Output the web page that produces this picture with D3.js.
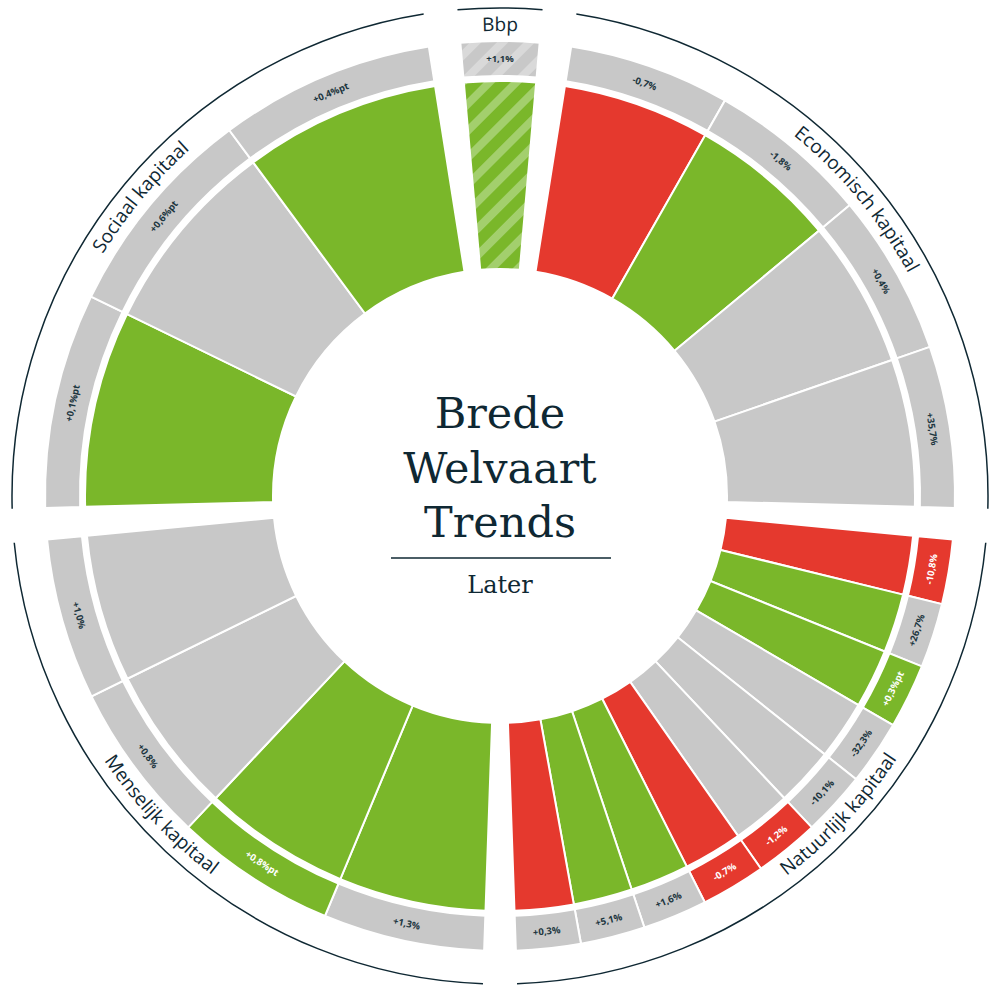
<!DOCTYPE html>
<html>
<head>
<meta charset="utf-8">
<script src="https://cdn.jsdelivr.net/npm/d3@7"></script>
<style>
  body { margin: 0; background: #fff; }
</style>
</head>
<body>
<script>
// sections, clockwise from the top
const sectionNames = ["Bbp", "Economisch kapitaal", "Natuurlijk kapitaal", "Menselijk kapitaal", "Sociaal kapitaal"];

// inner ring: status of the level per indicator (clockwise)
const levelStatus = [
  ["up"],
  ["down", "up", "neutral", "neutral"],
  ["down", "up", "up", "neutral", "neutral", "neutral", "down", "up", "up", "down"],
  ["up", "up", "neutral", "neutral"],
  ["up", "neutral", "up"]
];

// outer ring: trend status per indicator
const trendStatus = [
  ["neutral"],
  ["neutral", "neutral", "neutral", "neutral"],
  ["down", "neutral", "up", "neutral", "neutral", "down", "down", "neutral", "neutral", "neutral"],
  ["neutral", "up", "neutral", "neutral"],
  ["neutral", "neutral", "neutral"]
];

// outer ring: trend labels
const trendLabels = [
  ["+1,1%"],
  ["-0,7%", "-1,8%", "+0,4%", "+35,7%"],
  ["-10,8%", "+26,7%", "+0,3%pt", "-32,3%", "-10,1%", "-1,2%", "-0,7%", "+1,6%", "+5,1%", "+0,3%"],
  ["+1,3%", "+0,8%pt", "+0,8%", "+1,0%"],
  ["+0,1%pt", "+0,6%pt", "+0,4%pt"]
];

const hatchedSections = ["Bbp"];
const titleLines = ["Brede", "Welvaart", "Trends"];
const subtitle = "Later";

// layout
const width = 991, height = 985;
const cx = 500, cy = 496;
const gapDeg = 4, bbpDeg = 10;
const otherDeg = (360 - sectionNames.length * gapDeg - bbpDeg) / (sectionNames.length - 1);
const r0 = 227, r1 = 415, r2 = 420, r3 = 455, rLine = 488;
const dark = "#0f2833";

const colors = { up: "#7ab72a", down: "#e5392e", neutral: "#c8c8c8" };
const rad = d => d * Math.PI / 180;

// section angles (degrees, clockwise from top)
let sections = [];
let start = -bbpDeg / 2;
sectionNames.forEach((name, i) => {
  const span = i === 0 ? bbpDeg : otherDeg;
  sections.push({ name: name, i: i, start: start, end: start + span });
  start += span + gapDeg;
});

const svg = d3.select("body").append("svg")
  .attr("width", width)
  .attr("height", height);

// hatch patterns for Bbp
const defs = svg.append("defs");
function hatch(id, base, stripe) {
  const p = defs.append("pattern")
    .attr("id", id)
    .attr("patternUnits", "userSpaceOnUse")
    .attr("width", 19).attr("height", 19)
    .attr("patternTransform", "rotate(45)");
  p.append("rect").attr("width", 19).attr("height", 19).attr("fill", base);
  p.append("rect").attr("width", 8).attr("height", 19).attr("fill", stripe);
}
hatch("hatch-up", colors.up, "#a3cf6d");
hatch("hatch-neutral", colors.neutral, "#d9d9d9");

const g = svg.append("g").attr("transform", `translate(${cx},${cy})`);

const arc = d3.arc();

let cells = [];
sections.forEach(s => {
  const n = levelStatus[s.i].length;
  const a = d3.scaleLinear().domain([0, n]).range([s.start, s.end]);
  for (let k = 0; k < n; k++) {
    cells.push({
      section: s.name,
      a0: a(k), a1: a(k + 1),
      level: levelStatus[s.i][k],
      trend: trendStatus[s.i][k],
      label: trendLabels[s.i][k],
      hatched: hatchedSections.includes(s.name)
    });
  }
});

const fillOf = (status, hatched) => hatched ? `url(#hatch-${status})` : colors[status];

// inner ring
g.append("g").selectAll("path")
  .data(cells)
  .join("path")
  .attr("d", d => arc({ innerRadius: r0, outerRadius: r1, startAngle: rad(d.a0), endAngle: rad(d.a1) }))
  .attr("fill", d => fillOf(d.level, d.hatched))
  .attr("stroke", "#fff")
  .attr("stroke-width", 2);

// outer ring
g.append("g").selectAll("path")
  .data(cells)
  .join("path")
  .attr("d", d => arc({ innerRadius: r2, outerRadius: r3, startAngle: rad(d.a0), endAngle: rad(d.a1) }))
  .attr("fill", d => fillOf(d.trend, d.hatched))
  .attr("stroke", "#fff")
  .attr("stroke-width", 2);

// trend labels
const rl = (r2 + r3) / 2;
g.append("g").selectAll("text")
  .data(cells)
  .join("text")
  .attr("transform", d => {
    const m = (d.a0 + d.a1) / 2;
    const deg = (m + 360) % 360;
    const rot = deg > 90 && deg < 270 ? deg - 180 : deg;
    return `translate(${rl * Math.sin(rad(m))},${-rl * Math.cos(rad(m))}) rotate(${rot})`;
  })
  .attr("text-anchor", "middle")
  .attr("dominant-baseline", "central")
  .attr("font-family", "'Open Sans', sans-serif")
  .attr("font-weight", "bold")
  .attr("font-size", 9.5)
  .attr("fill", d => d.trend === "neutral" ? "#1d3640" : "#fff")
  .text(d => d.label);

// outer black arcs
g.append("g").selectAll("path")
  .data(sections)
  .join("path")
  .attr("d", d => {
    const p0 = [rLine * Math.sin(rad(d.start)), -rLine * Math.cos(rad(d.start))];
    const p1 = [rLine * Math.sin(rad(d.end)), -rLine * Math.cos(rad(d.end))];
    return `M${p0}A${rLine},${rLine} 0 0 1 ${p1}`;
  })
  .attr("fill", "none")
  .attr("stroke", dark)
  .attr("stroke-width", 1.5);

// section titles along the arc
sections.forEach(s => {
  let c = (s.start + s.end) / 2;
  const flip = c > 90 && c < 270;
  if (flip) c += c < 180 ? -3.5 : 3.5;
  const r = flip ? 476 : 465;
  const a0 = rad(flip ? c + 60 : c - 60), a1 = rad(flip ? c - 60 : c + 60);
  g.append("path")
    .attr("id", "title-" + s.i)
    .attr("fill", "none")
    .attr("d", `M${r * Math.sin(a0)},${-r * Math.cos(a0)}A${r},${r} 0 0 ${flip ? 0 : 1} ${r * Math.sin(a1)},${-r * Math.cos(a1)}`);
  g.append("text")
    .attr("font-family", "'Open Sans', sans-serif")
    .attr("font-size", 19)
    .attr("fill", dark)
    .append("textPath")
    .attr("href", "#title-" + s.i)
    .attr("startOffset", "50%")
    .attr("text-anchor", "middle")
    .text(s.name);
});

// centre title
g.append("g").selectAll("text")
  .data(titleLines)
  .join("text")
  .attr("x", 0)
  .attr("y", (d, i) => -68 + i * 54.5)
  .attr("text-anchor", "middle")
  .attr("font-family", "'DejaVu Serif', serif")
  .attr("font-size", 43)
  .attr("fill", dark)
  .text(d => d);

g.append("line")
  .attr("x1", -109).attr("x2", 111)
  .attr("y1", 62).attr("y2", 62)
  .attr("stroke", dark)
  .attr("stroke-width", 1.5);

g.append("text")
  .attr("x", 0).attr("y", 97)
  .attr("text-anchor", "middle")
  .attr("font-family", "'DejaVu Serif', serif")
  .attr("font-size", 24)
  .attr("fill", dark)
  .text(subtitle);
</script>
</body>
</html>
